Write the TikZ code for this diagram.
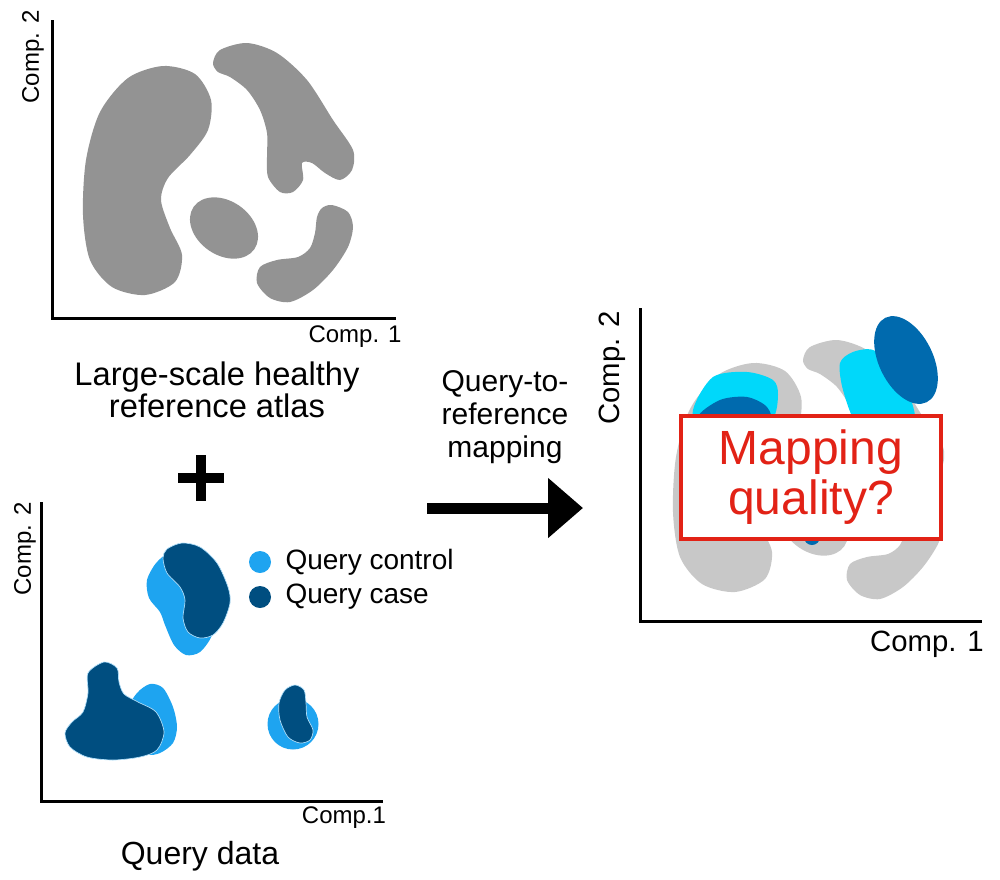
\documentclass[tikz,border=0pt]{standalone}
\usepackage{fontspec}
\setmainfont{Liberation Sans}
\usetikzlibrary{arrows.meta,positioning}

\definecolor{atlasgray}{RGB}{147,147,147}
\definecolor{mapgray}{RGB}{200,200,200}
\definecolor{ctrlblue}{RGB}{30,164,240}
\definecolor{caseblue}{RGB}{0,78,128}
\definecolor{mapcyan}{RGB}{0,216,250}
\definecolor{mapblue}{RGB}{0,106,174}
\definecolor{qred}{RGB}{226,34,22}

% atlas shapes, in pixel units
\newcommand{\kidneyblob}{plot[smooth cycle] coordinates {(163,66) (195,74) (211,100) (208,130) (190,155) (168,178) (161,200) (170,228) (182,255) (175,282) (145,295) (112,287) (90,260) (83,215) (86,160) (100,112) (128,78)}}
\newcommand{\crescentblob}{plot[smooth cycle] coordinates {(213,63) (220,50) (247,43) (277,53) (307,80) (333,120) (353,150) (352,170) (340,180) (325,173) (312,163) (302,163) (303,180) (293,192) (280,192) (268,177) (267,157) (267,133) (260,110) (247,90) (230,77) (218,72)}}
\newcommand{\ovalblob}{(224,228) ellipse [x radius=37, y radius=27, rotate=-35]}
\newcommand{\hookblob}{plot[smooth cycle] coordinates {(332,205) (348,212) (353,227) (348,247) (333,270) (313,290) (290,302) (270,298) (257,283) (260,267) (277,260) (298,257) (310,248) (315,233) (317,217) (322,208)}}

\tikzset{
  axis/.style={line width=2.25pt, line join=miter},
  axlabel/.style={font=\fontsize{18}{20}\selectfont, inner sep=0pt},
  bigaxlabel/.style={font=\fontsize{22}{24}\selectfont, inner sep=0pt},
  caption/.style={align=center, inner sep=0pt},
  legdot/.style={circle, minimum size=16.5pt, inner sep=0pt},
  legtext/.style={font=\fontsize{21}{23}\selectfont, inner sep=0pt, anchor=west},
  caseblob/.style={fill=caseblue, draw=ctrlblue!35!white, line width=0.5pt}
}

\begin{document}
\begin{tikzpicture}[x=0.75pt, y=-0.75pt]
\useasboundingbox (0,0) rectangle (1000,879);

% reference atlas
\fill[atlasgray] \kidneyblob;
\fill[atlasgray] \crescentblob;
\fill[atlasgray] \ovalblob;
\fill[atlasgray] \hookblob;
\draw[axis] (52,20) -- (52,318) -- (396,318);
\node[axlabel, rotate=90] (ref2) at (33,57) {Comp. 2};
\node[axlabel] (ref1) at (355,337) {Comp. 1};
\node[caption, font=\fontsize{24.5}{22}\selectfont] (reflab) at (217,390) {Large-scale healthy\\reference atlas};

% plus
\draw[line width=7.5pt] (178,478) -- (224,478) (201,455) -- (201,501);

% query data
\fill[ctrlblue] plot[smooth cycle] coordinates {(157,562) (172,554) (200,575) (214,610) (212,635) (200,652) (186,655) (174,645) (165,625) (160,612) (149,598) (147,580)};
\draw[caseblob] plot[smooth cycle] coordinates {(163,558) (167,549) (182,543) (200,547) (217,563) (228,587) (230,603) (223,623) (213,635) (200,638) (188,632) (183,618) (185,600) (180,587) (167,573)};
\fill[ctrlblue] plot[smooth cycle] coordinates {(137,693) (150,684) (163,688) (173,707) (177,727) (173,743) (160,753) (147,754) (130,740) (128,710)};
\draw[caseblob] plot[smooth cycle] coordinates {(88,673) (104,662) (117,668) (119,682) (124,694) (138,702) (156,712) (164,732) (157,750) (140,757) (113,760) (87,757) (70,747) (65,733) (72,722) (83,712) (88,693)};
\fill[ctrlblue] (293,724) circle [radius=25.5];
\draw[caseblob] plot[smooth cycle] coordinates {(295,685) (304,690) (306,703) (307,717) (313,730) (310,740) (300,743) (288,737) (280,720) (279,703) (285,690)};
\draw[axis] (41,502) -- (41,801) -- (383,801);
\node[axlabel, rotate=90] (qry2) at (25,549) {Comp. 2};
\node[axlabel] (qry1) at (344,818) {Comp.1};
\node[caption, font=\fontsize{24}{26}\selectfont] (qrylab) at (200,856) {Query data};
\node[legdot, fill=ctrlblue] (ctrldot) at (260,562) {};
\node[legdot, fill=caseblue] (casedot) at (260,597) {};
\node[legtext, right=10.5pt of ctrldot] (ctrltext) {Query control};
\node[legtext, right=10.5pt of casedot] (casetext) {Query case};

% mapping arrow
\coordinate (arrS) at (427,508);
\coordinate (arrE) at (583,508);
\draw[line width=8.25pt, -{Triangle[length=26.25pt, width=43.5pt]}] (arrS) -- (arrE);
\node[caption, font=\fontsize{22.5}{25}\selectfont] (maplab) at (505,417) {Query-to-\\reference\\mapping};

% mapped atlas
\begin{scope}[shift={(590,297)}]
\fill[mapgray] \kidneyblob;
\fill[mapgray] \crescentblob;
\fill[mapgray] \ovalblob;
\fill[mapgray] \hookblob;
\end{scope}
\fill[mapcyan] plot[smooth cycle] coordinates {(693,410) (713,377) (747,372) (773,380) (778,395) (772,420) (740,440) (700,440)};
\fill[mapblue] plot[smooth cycle] coordinates {(697,418) (720,400) (747,397) (767,407) (771,425) (745,445) (705,445)};
\fill[mapcyan] plot[smooth cycle] coordinates {(840,363) (853,352) (873,350) (893,367) (910,397) (914,425) (885,440) (857,425) (843,390)};
\fill[mapblue] (906,360) ellipse [x radius=47, y radius=27, rotate=-64];
\fill[mapblue] (812,537) circle [radius=8];
\draw[axis] (640,308) -- (640,621) -- (982,621);
\node[bigaxlabel, rotate=90] (map2) at (612,368) {Comp. 2};
\node[bigaxlabel] (map1) at (927,644) {Comp. 1};
\node[draw=qred, fill=white, line width=3pt, minimum width=195pt, minimum height=92.25pt, inner sep=0pt,
  align=center, text=qred, font=\fontsize{36}{37.5}\selectfont] (quality) at (811,477.5) {Mapping\\quality?};
\end{tikzpicture}
\end{document}
